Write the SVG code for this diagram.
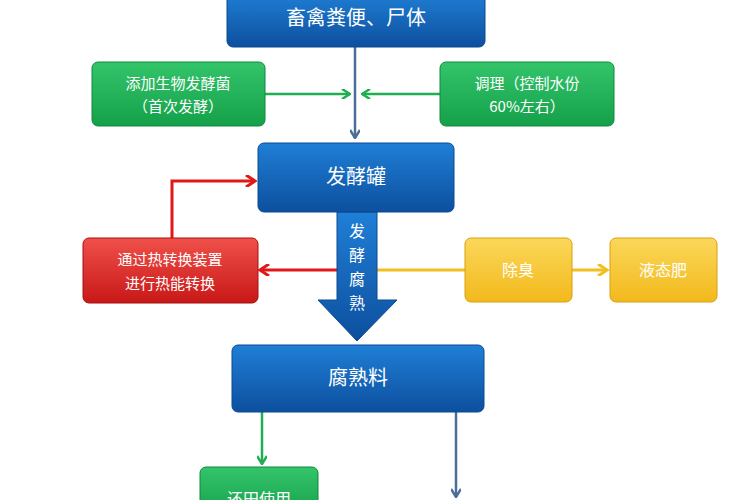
<svg xmlns="http://www.w3.org/2000/svg" width="750" height="500" viewBox="0 0 750 500">
<defs>
<linearGradient id="gb" x1="0" y1="0" x2="0" y2="1"><stop offset="0" stop-color="#1f7fd6"/><stop offset="1" stop-color="#0d4f9e"/></linearGradient>
<linearGradient id="gg" x1="0" y1="0" x2="0" y2="1"><stop offset="0" stop-color="#34c46a"/><stop offset="1" stop-color="#14a04a"/></linearGradient>
<linearGradient id="gr" x1="0" y1="0" x2="0" y2="1"><stop offset="0" stop-color="#f0504a"/><stop offset="1" stop-color="#c81818"/></linearGradient>
<linearGradient id="gy" x1="0" y1="0" x2="0" y2="1"><stop offset="0" stop-color="#fbd75a"/><stop offset="1" stop-color="#f2b91c"/></linearGradient>
<marker id="ag" markerWidth="10" markerHeight="10" refX="9" refY="5" orient="auto" markerUnits="userSpaceOnUse"><path d="M1,0 L9,5 L1,10" fill="none" stroke="#1fae52" stroke-width="2.5"/></marker>
<marker id="ab" markerWidth="10" markerHeight="10" refX="9" refY="5" orient="auto" markerUnits="userSpaceOnUse"><path d="M1,0 L9,5 L1,10" fill="none" stroke="#4a6e98" stroke-width="2.5"/></marker>
<marker id="ar" markerWidth="12" markerHeight="12" refX="10" refY="6" orient="auto" markerUnits="userSpaceOnUse"><path d="M1,0 L10,6 L1,12" fill="none" stroke="#e01818" stroke-width="3"/></marker>
<marker id="ay" markerWidth="12" markerHeight="12" refX="10" refY="6" orient="auto" markerUnits="userSpaceOnUse"><path d="M1,0 L10,6 L1,12" fill="none" stroke="#f0c020" stroke-width="3"/></marker>
</defs>
<style>
text{font-family:"Noto Sans CJK SC","Liberation Sans",sans-serif;fill:#fff;text-anchor:middle}
.b{fill:url(#gb);stroke:#0b4a90}
.g{fill:url(#gg);stroke:#0f8a3c}
.r{fill:url(#gr);stroke:#a81010}
.y{fill:url(#gy);stroke:#d9a010}
</style>
<rect width="750" height="500" fill="#fff"/>
<g id="connectors" fill="none">
<line x1="265" y1="94" x2="350" y2="94" stroke="#1fae52" stroke-width="2.5" marker-end="url(#ag)"/>
<line x1="440" y1="94" x2="362" y2="94" stroke="#1fae52" stroke-width="2.5" marker-end="url(#ag)"/>
<line x1="355" y1="47" x2="355" y2="138" stroke="#4a6e98" stroke-width="2.5" marker-end="url(#ab)"/>
<line x1="337" y1="270" x2="260" y2="270" stroke="#e01818" stroke-width="3" marker-end="url(#ar)"/>
<polyline points="172,238 172,181 255,181" stroke="#e01818" stroke-width="3" marker-end="url(#ar)"/>
<line x1="377" y1="270" x2="465" y2="270" stroke="#f0c020" stroke-width="3"/>
<line x1="572" y1="270" x2="607" y2="270" stroke="#f0c020" stroke-width="3" marker-end="url(#ay)"/>
<line x1="262" y1="412" x2="262" y2="464" stroke="#1fae52" stroke-width="2.5" marker-end="url(#ag)"/>
<line x1="456" y1="412" x2="456" y2="497" stroke="#4a6e98" stroke-width="2.5" marker-end="url(#ab)"/>
<path d="M337,212 H377 V300 H397 L357,341 L318,300 H337 Z" fill="url(#gb)" stroke="#0b4a90"/>
<g font-size="16" font-family="Liberation Serif,serif"><text x="357" y="237">发</text><text x="357" y="261">酵</text><text x="357" y="285">腐</text><text x="357" y="309">熟</text></g>
</g>
<g id="n1"><rect class="b" x="227" y="-8" width="258" height="55" rx="6"/><text x="356" y="25" font-size="20">畜禽粪便、尸体</text></g>
<g id="n2"><rect class="g" x="92" y="62" width="173" height="64" rx="6"/><text x="178" y="89" font-size="15">添加生物发酵菌</text><text x="178" y="112" font-size="15">（首次发酵）</text></g>
<g id="n3"><rect class="g" x="440" y="62" width="174" height="64" rx="6"/><text x="527" y="89" font-size="15">调理（控制水份</text><text x="527" y="112" font-size="15">60%左右）</text></g>
<g id="n4"><rect class="b" x="258" y="143" width="196" height="69" rx="6"/><text x="356" y="184" font-size="20">发酵罐</text></g>
<g id="n5"><rect class="r" x="83" y="238" width="175" height="65" rx="6"/><text x="170" y="265" font-size="15">通过热转换装置</text><text x="170" y="289" font-size="15">进行热能转换</text></g>
<g id="n6"><rect class="y" x="465" y="238" width="107" height="64" rx="6"/><text x="518" y="276" font-size="16">除臭</text></g>
<g id="n7"><rect class="y" x="610" y="238" width="107" height="64" rx="6"/><text x="663" y="276" font-size="16">液态肥</text></g>
<g id="n8"><rect class="b" x="232" y="345" width="252" height="67" rx="6"/><text x="358" y="385" font-size="20">腐熟料</text></g>
<g id="n9"><rect class="g" x="200" y="467" width="118" height="50" rx="6"/><text x="259" y="505" font-size="16">还田使用</text></g>
</svg>
